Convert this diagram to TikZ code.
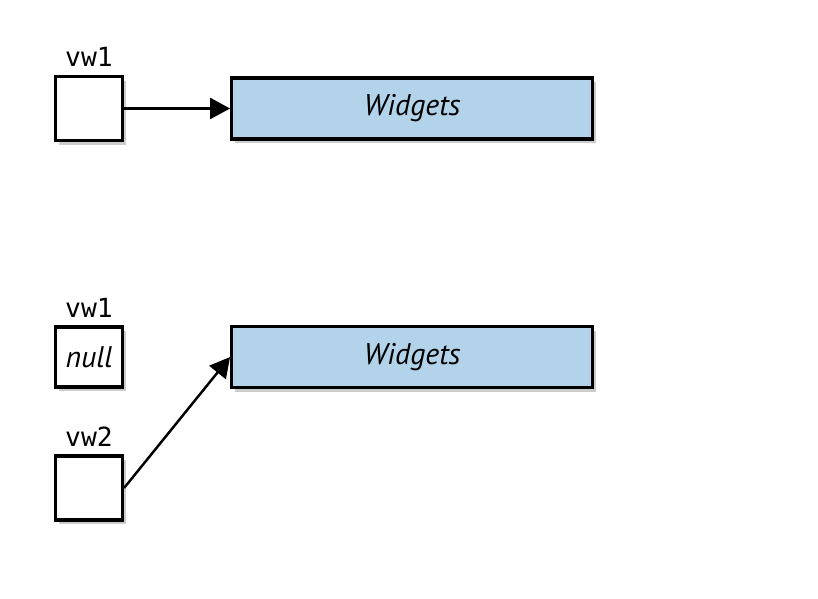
\documentclass[tikz,border=0pt]{standalone}
\usepackage{fontspec}
\usetikzlibrary{positioning, arrows.meta, shadows}
\newfontfamily\varfont{DejaVu Sans Mono}
\newfontfamily\boxfont{PT Sans}
\definecolor{objblue}{RGB}{179,211,234}

\begin{document}
\begin{tikzpicture}[->, >={Triangle[length=0.4cm, width=0.42cm]}, line width=1.4pt, node distance=2.1cm]
        \tikzset{
          refbox/.style={draw, line width=1.8pt, fill=white, minimum width=1.34cm, minimum height=1.28cm,
            drop shadow={shadow xshift=0.07cm, shadow yshift=-0.08cm, opacity=0.4}},
          objbox/.style={draw, line width=1.8pt, fill=objblue,
            minimum width=7.22cm, minimum height=1.22cm, font=\boxfont\itshape\fontsize{17}{20}\selectfont,
            drop shadow={shadow xshift=0.07cm, shadow yshift=-0.08cm, opacity=0.4}},
          varname/.style={inner sep=1pt, font=\varfont\fontsize{15}{18}\selectfont}
        }
        \useasboundingbox (0,0) rectangle (16.36,-11.98);
        % first picture
        \node[refbox] (r1) at (1.78,-2.17) {};
        \node[objbox] (w1) [right=2.12cm of r1] {Widgets};
        \node[varname] (n1) [above=0.1cm of r1] {vw1};
        % second picture
        \node[refbox, minimum height=1.2cm, font=\boxfont\itshape\fontsize{17}{20}\selectfont] (r2) at (1.78,-7.14) {null};
        \node[objbox] (w2) [right=2.12cm of r2] {Widgets};
        \node[varname] (n2) [above=0.1cm of r2] {vw1};
        \node[refbox] (r3) at (1.78,-9.76) {};
        \node[varname] (n3) [above=0.1cm of r3] {vw2};

        \draw (r1) -- (w1);
        \draw (r3.east) -- (w2.west);
      \end{tikzpicture}
\end{document}
